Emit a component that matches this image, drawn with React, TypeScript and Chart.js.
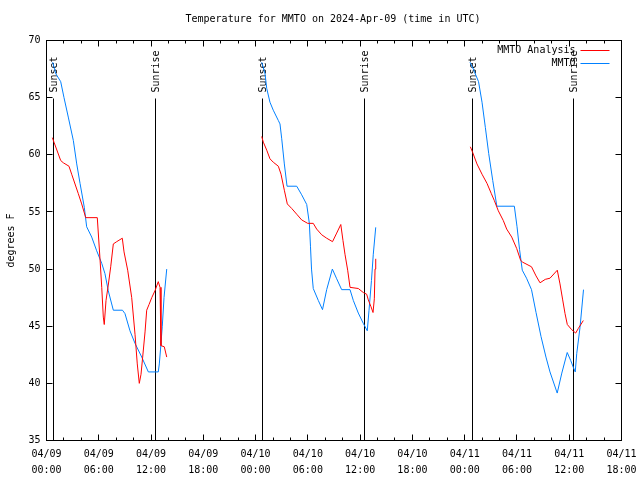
import React, { useEffect, useRef } from 'react';
import { Chart, registerables } from 'chart.js';

Chart.register(...registerables);

// Hours since 04/09 00:00 UTC
const analysisHours = [
  0.67, 0.86, 1.63, 1.93, 2.58, 2.89, 3.65, 4.04, 4.5, 5.83, 6.14, 6.34, 6.52, 6.63, 6.83, 7.09, 7.37, 7.67,
  8.06, 8.7, 8.9, 9.32, 9.78, 10.16, 10.42, 10.65, 10.85, 11.04, 11.31, 11.5, 11.77, 12.08, 12.45, 12.83,
  13.03, 13.14, 13.52, 13.8,
  19,
  24.7, 24.89, 25.28, 25.65, 26.03, 26.61, 26.92, 27.3, 27.64, 28.15, 28.72, 29.29, 29.98, 30.62, 31.01,
  31.59, 32.16, 32.83, 33.31, 33.78, 34.03, 34.26, 34.57, 34.84, 35.79, 36.36, 36.75, 36.94, 37.25, 37.48,
  37.63, 37.71, 37.79,
  43,
  48.65, 48.92, 49.41, 49.99, 50.56, 51.06, 51.4, 51.86, 52.43, 52.82, 53.4, 53.97, 54.43, 54.66, 55.67,
  56.19, 56.65, 57.25, 57.79, 58.63, 58.94, 59.25, 59.52, 59.78, 60.28, 60.74, 61.04, 61.62,
];
const analysisTemps = [
  61.5, 61.1, 59.5, 59.3, 59.0, 58.3, 56.6, 55.7, 54.5, 54.5, 50.9, 48.4, 45.8, 45.15, 47.25, 48.6, 50.2, 52.2,
  52.4, 52.7, 51.5, 49.9, 47.5, 44.3, 41.7, 40.0, 40.8, 42.3, 44.5, 46.4, 46.9, 47.5, 48.1, 48.9,
  48.4, 43.3, 43.2, 42.3,
  null,
  61.6, 61.1, 60.4, 59.65, 59.35, 59.0, 58.3, 56.9, 55.7, 55.3, 54.8, 54.3, 54.0, 54.0, 53.5,
  53.0, 52.7, 52.4, 53.15, 53.9, 52.5, 51.3, 49.9, 48.4, 48.3, 47.95, 47.8, 47.3, 46.7, 46.2,
  47.4, 50.0, 50.9,
  null,
  60.7, 60.2, 59.2, 58.3, 57.5, 56.6, 56.0, 55.1, 54.25, 53.5, 52.8, 51.8, 50.75, 50.6, 50.2,
  49.4, 48.8, 49.1, 49.2, 49.9, 48.7, 47.3, 46.1, 45.15, 44.7, 44.4, 44.8, 45.5,
];

const mmtoHours = [
  0.71, 1.06, 1.63, 2.01, 2.5, 3.08, 3.47, 3.85, 4.34, 4.61, 5.19, 5.76, 6.34, 6.71, 7.09, 7.67, 8.72, 9.01,
  9.58, 10.16, 10.93, 11.69, 12.83, 12.95, 13.09, 13.29, 13.49, 13.8,
  19,
  24.7, 25.08, 25.28, 25.65, 26.03, 26.61, 26.8, 27.0, 27.3, 27.61, 28.72, 29.29, 29.87, 30.17, 30.3, 30.42,
  30.62, 31.2, 31.68, 32.16, 32.81, 33.31, 33.88, 34.84, 35.22, 35.79, 36.36, 36.82, 37.02, 37.3, 37.51, 37.79,
  43,
  48.61, 48.99, 49.59, 49.99, 50.37, 50.76, 51.22, 51.69, 53.7, 54.01, 54.3, 54.61, 55.1, 55.67, 56.19, 56.76,
  57.33, 57.79, 58.62, 59.15, 59.77, 60.17, 60.47, 60.69, 60.86, 61.24, 61.64,
];
const mmtoTemps = [
  68.1, 67.1, 66.4, 65.0, 63.3, 61.25, 59.2, 57.5, 55.4, 53.7, 52.8, 51.6, 50.5, 49.6, 48.1, 46.4, 46.4, 46.1,
  44.6, 43.5, 42.3, 41.0, 41.0, 41.7, 43.0, 45.0, 47.5, 50.0,
  null,
  68.1, 67.1, 65.8, 64.6, 63.9, 63.0, 62.7, 61.4, 59.2, 57.25, 57.25, 56.5, 55.65, 54.0, 52.0, 50.0,
  48.3, 47.25, 46.45, 48.2, 50.0, 49.15, 48.2, 48.2, 47.25, 46.15, 45.25, 44.6, 46.4, 49.0, 51.3, 53.65,
  null,
  68.1, 67.5, 66.4, 64.6, 62.4, 60.1, 57.75, 55.5, 55.5, 53.7, 51.7, 49.9, 49.2, 48.2, 46.2, 44.1,
  42.3, 41.0, 39.15, 40.9, 42.7, 42.0, 41.4, 41.0, 42.6, 44.9, 48.2,
];

const sunEventHours = [0.77, 12.46, 24.77, 36.48, 48.87, 60.46];
const sunEventLabels = ['Sunset', 'Sunrise', 'Sunset', 'Sunrise', 'Sunset', 'Sunrise'];

const xTickDates = ['04/09', '04/09', '04/09', '04/09', '04/10', '04/10', '04/10', '04/10', '04/11', '04/11', '04/11', '04/11'];
const xTickTimes = ['00:00', '06:00', '12:00', '18:00', '00:00', '06:00', '12:00', '18:00', '00:00', '06:00', '12:00', '18:00'];

const seriesNames = ['MMTO Analysis', 'MMTO'];
const seriesColors = ['#ff0000', '#0080ff'];

const TITLE = 'Temperature for MMTO on 2024-Apr-09 (time in UTC)';
const Y_TITLE = 'degrees F';
const FONT = '"DejaVu Sans Mono", "Liberation Mono", monospace';

const overlay = {
  id: 'overlay',
  beforeDatasetsDraw(chart: any) {
    const { ctx, chartArea: a, scales } = chart;
    const xs = scales.x;
    ctx.save();
    ctx.strokeStyle = '#000';
    ctx.fillStyle = '#000';
    ctx.lineWidth = 1;
    ctx.font = `10px ${FONT}`;
    sunEventHours.forEach((h, i) => {
      const px = Math.floor(xs.getPixelForValue(h)) + 0.5;
      ctx.beginPath();
      ctx.moveTo(px, a.top + 58);
      ctx.lineTo(px, a.bottom);
      ctx.stroke();
      ctx.save();
      ctx.translate(px + 1, a.top + 52);
      ctx.rotate(-Math.PI / 2);
      ctx.textAlign = 'left';
      ctx.textBaseline = 'middle';
      ctx.fillText(sunEventLabels[i], 0, 0);
      ctx.restore();
    });
    ctx.restore();
  },
  afterDraw(chart: any) {
    const { ctx, chartArea: a, scales } = chart;
    const xs = scales.x;
    const ys = scales.y;
    ctx.save();
    ctx.strokeStyle = '#000';
    ctx.fillStyle = '#000';
    ctx.lineWidth = 1;
    // border
    ctx.strokeRect(a.left, a.top, a.right - a.left, a.bottom - a.top);
    // x ticks (major + minor, inward, mirrored)
    ctx.beginPath();
    for (let v = xs.min; v <= xs.max; v += 2) {
      const px = Math.floor(xs.getPixelForValue(v)) + 0.5;
      const len = v % 6 === 0 ? 6 : 3;
      ctx.moveTo(px, a.bottom);
      ctx.lineTo(px, a.bottom - len);
      ctx.moveTo(px, a.top);
      ctx.lineTo(px, a.top + len);
    }
    ys.ticks.forEach((t: any) => {
      const py = Math.floor(ys.getPixelForValue(t.value)) + 0.5;
      ctx.moveTo(a.left, py);
      ctx.lineTo(a.left + 6, py);
      ctx.moveTo(a.right, py);
      ctx.lineTo(a.right - 6, py);
    });
    ctx.stroke();
    // title
    ctx.font = `10px ${FONT}`;
    ctx.textAlign = 'center';
    ctx.textBaseline = 'middle';
    ctx.fillText(TITLE, (a.left + a.right) / 2 - 1, 19);
    // y title
    ctx.save();
    ctx.translate(11, (a.top + a.bottom) / 2);
    ctx.rotate(-Math.PI / 2);
    ctx.fillText(Y_TITLE, 0, 0);
    ctx.restore();
    // legend
    seriesNames.forEach((name, i) => {
      const y = a.top + 10 + i * 12.5;
      ctx.textAlign = 'right';
      ctx.fillStyle = '#000';
      ctx.fillText(name, a.right - 46, y);
      ctx.strokeStyle = seriesColors[i];
      ctx.beginPath();
      ctx.moveTo(a.right - 41, Math.floor(y) + 0.5);
      ctx.lineTo(a.right - 12, Math.floor(y) + 0.5);
      ctx.stroke();
    });
    ctx.restore();
  },
};

export default function App() {
  const ref = useRef<HTMLCanvasElement | null>(null);
  useEffect(() => {
    if (!ref.current) return;
    const mk = (hs: number[], ts: (number | null)[]) => hs.map((h, i) => ({ x: h, y: ts[i] }));
    const chart = new Chart(ref.current, {
      type: 'line',
      data: {
        datasets: [
          {
            label: seriesNames[0],
            data: mk(analysisHours, analysisTemps) as any,
            borderColor: seriesColors[0],
            borderWidth: 1,
            pointRadius: 0,
            tension: 0,
            spanGaps: false,
          },
          {
            label: seriesNames[1],
            data: mk(mmtoHours, mmtoTemps) as any,
            borderColor: seriesColors[1],
            borderWidth: 1,
            pointRadius: 0,
            tension: 0,
            spanGaps: false,
          },
        ],
      },
      options: {
        animation: false,
        responsive: false,
        devicePixelRatio: 1,
        layout: { padding: { top: 40.5, right: 18.5, left: 0, bottom: 0 } },
        plugins: { legend: { display: false }, tooltip: { enabled: false }, title: { display: false } },
        scales: {
          x: {
            type: 'linear',
            min: 0,
            max: 66,
            grid: { display: false, drawTicks: false },
            border: { display: false },
            ticks: {
              stepSize: 6,
              autoSkip: false,
              maxRotation: 0,
              padding: 6,
              color: '#000',
              font: { family: FONT, size: 10, lineHeight: 1.6 },
              callback: (v: any) => {
                const i = Math.round(Number(v) / 6);
                return [xTickDates[i], xTickTimes[i]];
              },
            },
            afterFit: (s: any) => {
              s.height = 39.5;
              s.paddingLeft = 0;
              s.paddingRight = 0;
            },
          },
          y: {
            min: 35,
            max: 70,
            grid: { display: false, drawTicks: false },
            border: { display: false },
            ticks: {
              stepSize: 5,
              padding: 6,
              color: '#000',
              font: { family: FONT, size: 10 },
            },
            afterFit: (s: any) => {
              s.width = 46.5;
              s.paddingTop = 0;
              s.paddingBottom = 0;
            },
          },
        },
      },
      plugins: [overlay],
    });
    return () => chart.destroy();
  }, []);
  return (
    <div style={{ position: 'fixed', left: 0, top: 0, width: 640, height: 480, background: '#fff' }}>
      <canvas ref={ref} width={640} height={480} style={{ width: 640, height: 480, display: 'block' }} />
    </div>
  );
}
